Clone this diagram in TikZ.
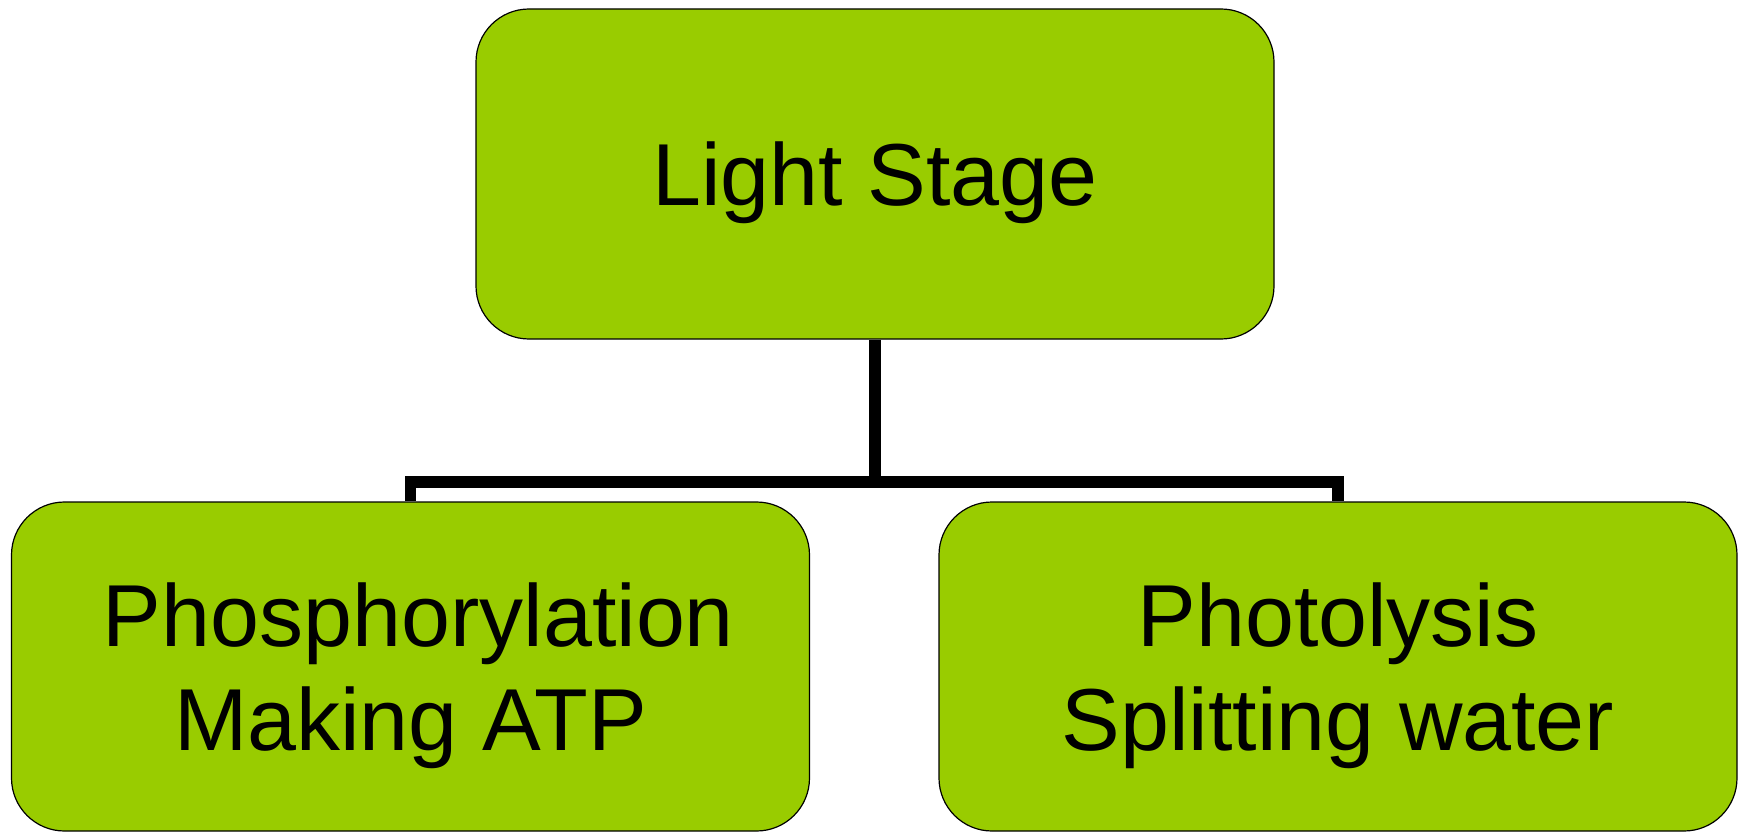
\documentclass[tikz,border=0pt]{standalone}
\usepackage{fontspec}
\setmainfont{Liberation Sans}
\definecolor{boxgreen}{HTML}{99CC00}
\begin{document}
\begin{tikzpicture}[x=1pt,y=-1pt,
  stagebox/.style={draw=black,line width=1.2pt,fill=boxgreen,rounded corners=53pt,
    minimum width=798pt,minimum height=330pt,inner sep=0pt,align=center,
    text depth=0pt,font=\fontsize{88}{104}\selectfont},
  conn/.style={draw=black,line width=11.7pt,line join=miter}]
\useasboundingbox (0,0) rectangle (1746,832);
\node[stagebox] (top) at (875,174) {Light Stage};
\node[stagebox,minimum height=329pt] (left) at (410.5,666.5) {\hspace*{16pt}Phosphorylation\\Making ATP};
\node[stagebox,minimum height=329pt] (right) at (1338,666.5) {Photolysis\\Splitting water};
\coordinate (hub) at (875,482);
\draw[conn] (top.south) -- (hub);
\draw[conn] (left.north) |- (hub) -| (right.north);
\end{tikzpicture}
\end{document}
